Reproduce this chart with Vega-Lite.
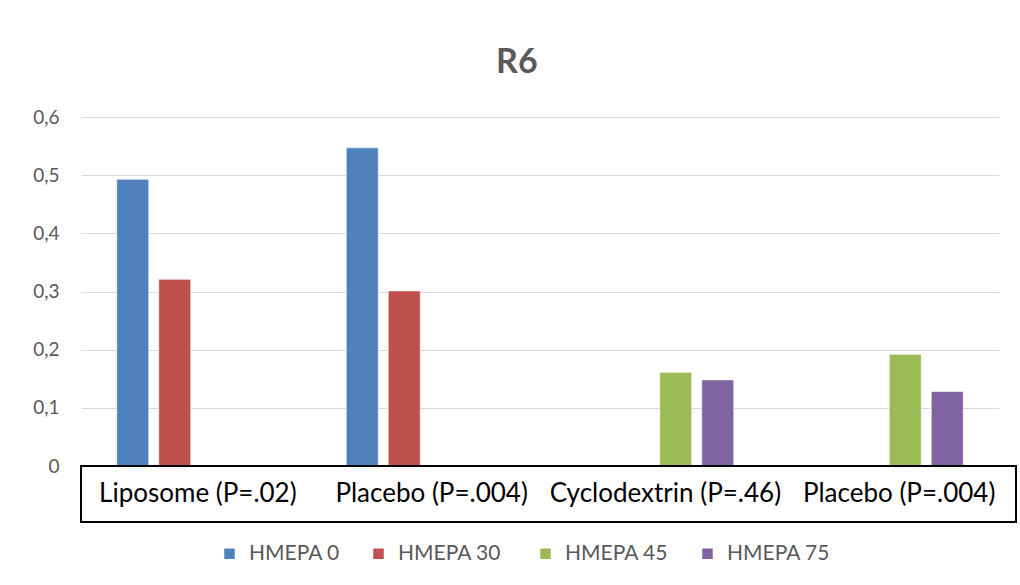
{
  "$schema": "https://vega.github.io/schema/vega-lite/v6.json",
  "padding": {"left": 32, "top": 46, "right": 0, "bottom": 0},
  "background": "white",
  "bounds": "flush",
  "title": {"text": "R6", "font": "Lato", "fontSize": 34, "fontWeight": "bold", "color": "#595959", "anchor": "middle", "offset": 28, "dx": -8},
  "datasets": {
    "bars": [
      {"group": "Liposome", "series": "HMEPA 0", "value": 0.493},
      {"group": "Liposome", "series": "HMEPA  30", "value": 0.321},
      {"group": "Placebo (liposome)", "series": "HMEPA 0", "value": 0.547},
      {"group": "Placebo (liposome)", "series": "HMEPA  30", "value": 0.301},
      {"group": "Cyclodextrin", "series": "HMEPA 45", "value": 0.161},
      {"group": "Cyclodextrin", "series": "HMEPA 75", "value": 0.148},
      {"group": "Placebo (cyclodextrin)", "series": "HMEPA 45", "value": 0.192},
      {"group": "Placebo (cyclodextrin)", "series": "HMEPA 75", "value": 0.128}
    ],
    "labels": [
      {"group": "Liposome", "label": "Liposome (P=.02)"},
      {"group": "Placebo (liposome)", "label": "Placebo (P=.004)"},
      {"group": "Cyclodextrin", "label": "Cyclodextrin (P=.46)"},
      {"group": "Placebo (cyclodextrin)", "label": "Placebo (P=.004)"}
    ]
  },
  "spacing": 0,
  "resolve": {"scale": {"x": "independent"}},
  "vconcat": [
    {
      "width": 918,
      "height": 349,
      "view": {"stroke": null},
      "data": {"name": "bars"},
      "mark": {"type": "bar", "stroke": "#ffffff", "strokeWidth": 1, "strokeOpacity": 0.6},
      "encoding": {
        "x": {
          "field": "group", "type": "nominal",
          "sort": ["Liposome", "Placebo (liposome)", "Cyclodextrin", "Placebo (cyclodextrin)"],
          "scale": {"domain": ["Liposome", "Placebo (liposome)", "Cyclodextrin", "Placebo (cyclodextrin)"], "paddingInner": 0, "paddingOuter": 0},
          "axis": null
        },
        "xOffset": {
          "field": "series", "type": "nominal",
          "scale": {"domain": ["HMEPA 0", "HMEPA  30", "HMEPA 45", "HMEPA 75"], "paddingInner": 0.238, "paddingOuter": 0.851}
        },
        "y": {
          "field": "value", "type": "quantitative",
          "scale": {"domain": [0, 0.6], "nice": false},
          "axis": {
            "title": null, "values": [0, 0.1, 0.2, 0.3, 0.4, 0.5, 0.6],
            "labelExpr": "datum.value == 0 ? '0' : replace(format(datum.value, '.1f'), '.', ',')",
            "domain": false, "ticks": false, "tickSize": 0, "labelPadding": 22,
            "labelFont": "Lato", "labelFontSize": 19, "labelColor": "#595959",
            "gridColor": "#d9d9d9", "gridWidth": 1
          }
        },
        "color": {
          "field": "series", "type": "nominal",
          "scale": {"domain": ["HMEPA 0", "HMEPA  30", "HMEPA 45", "HMEPA 75"], "range": ["#4f81bd", "#c0504d", "#9bbb59", "#8064a2"]},
          "legend": {
            "title": null, "orient": "bottom", "direction": "horizontal",
            "symbolType": "square", "symbolSize": 110, "symbolStrokeWidth": 0,
            "labelFont": "Lato", "labelFontSize": 21, "labelColor": "#595959",
            "labelOffset": 9, "columnPadding": 28, "offset": 20
          }
        }
      }
    },
    {
      "width": 935,
      "height": 56,
      "view": {"stroke": "black", "strokeWidth": 2},
      "data": {"name": "labels"},
      "mark": {"type": "text", "font": "Lato", "fontSize": 26, "color": "black"},
      "encoding": {
        "x": {
          "field": "group", "type": "nominal",
          "sort": ["Liposome", "Placebo (liposome)", "Cyclodextrin", "Placebo (cyclodextrin)"],
          "scale": {"domain": ["Liposome", "Placebo (liposome)", "Cyclodextrin", "Placebo (cyclodextrin)"], "paddingInner": 0, "paddingOuter": 0},
          "axis": null
        },
        "text": {"field": "label"}
      }
    }
  ],
  "config": {
    "legend": {"layout": {"bottom": {"anchor": "middle"}}}
  }
}
